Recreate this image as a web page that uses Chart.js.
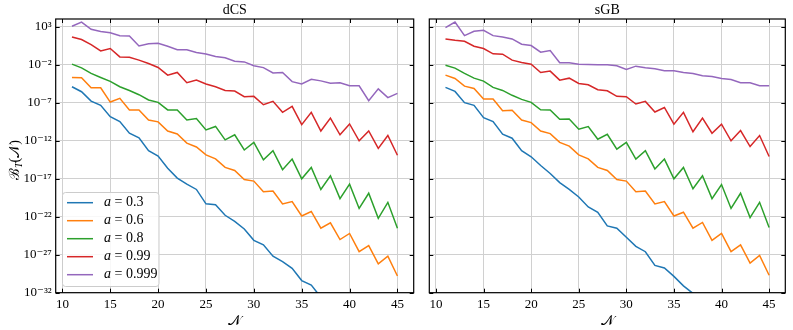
<!DOCTYPE html>
<html>
<head>
<meta charset="utf-8">
<script src="https://cdn.jsdelivr.net/npm/chart.js@4.4.0/dist/chart.umd.min.js"></script>
<style>
  body { margin: 0; background: #fff; width: 793px; height: 330px; overflow: hidden; position: relative; }
  canvas { position: absolute; top: 0; }
</style>
</head>
<body>
<canvas id="left" width="420" height="330" style="left:0"></canvas>
<canvas id="right" width="373" height="330" style="left:420px"></canvas>
<script>
// mode number N
const N = [11,12,13,14,15,16,17,18,19,20,21,22,23,24,25,26,27,28,29,30,31,32,33,34,35,36,37,38,39,40,41,42,43,44,45];

// log10 of B_T(N)
const dcs_03 = [-4.87,-5.53,-6.76,-7.32,-8.81,-9.47,-11.0,-11.6,-13.3,-14.0,-15.6,-16.9,-17.7,-18.4,-20.3,-20.4,-21.8,-22.6,-23.6,-25.1,-25.7,-27.2,-27.9,-28.8,-30.4,-31.0,-32.6];
const dcs_06 = [-3.65,-3.69,-5.0,-5.0,-6.89,-6.4,-7.93,-7.93,-9.25,-9.5,-10.7,-11.1,-12.3,-12.8,-13.85,-14.37,-15.5,-15.9,-17.1,-17.3,-18.7,-18.6,-20.3,-20.0,-21.9,-21.3,-23.5,-22.8,-25.0,-24.2,-26.6,-25.8,-28.2,-27.2,-29.8];
const dcs_08 = [-1.9,-2.38,-3.12,-3.65,-4.17,-4.87,-5.36,-5.92,-6.62,-6.93,-7.93,-7.93,-9.25,-9.07,-10.56,-10.1,-11.87,-11.2,-13.2,-12.2,-14.5,-13.3,-15.8,-14.4,-17.0,-15.5,-18.4,-16.6,-19.6,-17.7,-20.9,-18.9,-22.2,-20.1,-23.5];
const dcs_099 = [1.69,1.34,0.68,-0.15,0.16,-0.94,-0.98,-1.37,-1.81,-2.34,-3.34,-2.99,-4.35,-4.0,-4.52,-4.87,-5.36,-5.44,-6.19,-6.14,-7.24,-6.8,-8.24,-7.45,-9.86,-8.24,-10.7,-9.0,-11.2,-9.77,-12.0,-10.7,-13.0,-11.3,-13.9];
const dcs_0999 = [3.1,3.65,2.7,2.4,2.25,1.85,1.8,0.5,0.8,0.85,0.45,0.0,0.0,-0.35,-0.55,-0.9,-1.05,-1.5,-1.6,-2.1,-2.35,-3.05,-3.0,-4.2,-4.5,-3.9,-4.1,-4.4,-4.35,-4.75,-4.75,-6.7,-5.15,-6.3,-5.75];

const sgb_03 = [-4.96,-5.49,-6.97,-7.32,-8.94,-9.47,-11.13,-11.65,-13.3,-14.1,-15.25,-16.3,-17.5,-18.4,-19.4,-20.7,-21.4,-23.2,-23.5,-24.7,-25.9,-26.6,-28.4,-28.75,-29.85,-31.1,-32.1];
const sgb_06 = [-3.34,-3.78,-4.79,-5.1,-6.5,-6.5,-8.03,-7.98,-9.25,-9.6,-10.7,-11.05,-12.2,-12.7,-13.85,-14.37,-15.5,-15.9,-17.1,-17.3,-18.7,-18.6,-20.3,-20.0,-21.9,-21.4,-23.5,-22.75,-25.1,-24.2,-26.6,-25.7,-28.1,-27.1,-29.7];
const sgb_08 = [-2.03,-2.42,-3.12,-3.74,-4.13,-4.96,-5.36,-6.0,-6.54,-6.93,-7.9,-7.94,-9.16,-9.12,-10.47,-10.12,-11.78,-11.13,-13.1,-12.2,-14.4,-13.3,-15.7,-14.4,-17.0,-15.5,-18.3,-16.6,-19.6,-17.75,-20.9,-18.9,-22.1,-20.1,-23.4];
const sgb_099 = [1.43,1.25,1.12,0.46,0.16,-0.54,-0.59,-1.37,-1.68,-1.9,-2.99,-2.81,-4.0,-3.74,-4.44,-4.61,-5.27,-5.4,-6.14,-6.19,-7.15,-6.8,-8.2,-7.6,-9.8,-8.25,-10.8,-9.0,-11.0,-9.8,-12.0,-10.65,-12.75,-11.3,-14.06];
const sgb_0999 = [2.9,3.65,1.86,2.43,2.56,1.86,1.69,1.43,0.73,0.55,-0.32,-0.1,-1.72,-1.72,-1.9,-1.94,-1.99,-1.99,-2.12,-2.6,-2.16,-2.38,-2.51,-2.77,-2.77,-3.0,-3.12,-3.43,-3.52,-3.78,-3.91,-4.35,-4.35,-4.74,-4.74];

const spins = ['0.3', '0.6', '0.8', '0.99', '0.999'];
const colors = ['#1f77b4', '#ff7f0e', '#2ca02c', '#d62728', '#9467bd'];
const xTicks = [10, 15, 20, 25, 30, 35, 40, 45];
const yTicks = [3, -2, -7, -12, -17, -22, -27, -32];

const SERIF = '"Liberation Serif", "DejaVu Serif", serif';
const SUP = {'0':'⁰','1':'¹','2':'²','3':'³','4':'⁴','5':'⁵','6':'⁶','7':'⁷','8':'⁸','9':'⁹','-':'⁻'};
const sup = s => String(s).split('').map(c => SUP[c]).join('');

function makeDatasets(series) {
  return series.map((vals, i) => ({
    label: 'a = ' + spins[i],
    data: vals.map((v, j) => ({ x: N[j], y: Math.pow(10, v) })),
    borderColor: colors[i],
    backgroundColor: colors[i],
    borderWidth: 1.5,
    pointRadius: 0,
    tension: 0,
    fill: false
  }));
}

// frame, inward ticks, panel title, y label and legend
const decor = {
  id: 'decor',
  afterDraw(chart, args, opts) {
    const { ctx, chartArea: a, scales } = chart;
    ctx.save();
    ctx.strokeStyle = '#000';
    ctx.lineWidth = 1;
    ctx.beginPath();
    scales.x.ticks.forEach(t => {
      const px = Math.round(scales.x.getPixelForValue(t.value)) + 0.5;
      ctx.moveTo(px, a.bottom); ctx.lineTo(px, a.bottom - 4);
      ctx.moveTo(px, a.top); ctx.lineTo(px, a.top + 4);
    });
    scales.y.ticks.forEach(t => {
      const py = Math.round(scales.y.getPixelForValue(t.value)) + 0.5;
      ctx.moveTo(a.left, py); ctx.lineTo(a.left + 4, py);
      ctx.moveTo(a.right, py); ctx.lineTo(a.right - 4, py);
    });
    ctx.stroke();
    ctx.lineWidth = 1.2;
    ctx.strokeRect(a.left, a.top, a.right - a.left, a.bottom - a.top);

    ctx.fillStyle = '#000';
    ctx.font = '14px ' + SERIF;
    ctx.textAlign = 'center';
    ctx.textBaseline = 'middle';
    ctx.fillText(opts.title, (a.left + a.right) / 2, 10);

    if (opts.ylabel) {
      ctx.save();
      ctx.translate(15, 160);
      ctx.rotate(-Math.PI / 2);
      const big = '14px ' + SERIF, small = 'italic 10px ' + SERIF;
      ctx.font = big; const w1 = ctx.measureText('ℬ').width;
      ctx.font = small; const w2 = ctx.measureText('T').width;
      ctx.font = big; const w3 = ctx.measureText('(𝒩)').width;
      let x0 = -(w1 + w2 + w3) / 2;
      ctx.textAlign = 'left';
      ctx.font = big; ctx.fillText('ℬ', x0, 0);
      ctx.font = small; ctx.fillText('T', x0 + w1, 4);
      ctx.font = big; ctx.fillText('(𝒩)', x0 + w1 + w2, 0);
      ctx.restore();
    }

    if (opts.legend) {
      const bx = 62.5, by = 192.5, bw = 96.5, bh = 94;
      ctx.fillStyle = 'rgba(255,255,255,0.85)';
      ctx.strokeStyle = '#cccccc';
      ctx.lineWidth = 1;
      ctx.beginPath();
      ctx.roundRect(bx, by, bw, bh, 3);
      ctx.fill(); ctx.stroke();
      chart.data.datasets.forEach((ds, i) => {
        const y = 202.7 + 18 * i;
        ctx.strokeStyle = ds.borderColor;
        ctx.lineWidth = 1.5;
        ctx.beginPath(); ctx.moveTo(67, y); ctx.lineTo(93, y); ctx.stroke();
        ctx.fillStyle = '#000';
        ctx.textAlign = 'left';
        ctx.textBaseline = 'middle';
        ctx.font = 'italic 14px ' + SERIF;
        ctx.fillText('a', 104, y);
        const wa = ctx.measureText('a').width;
        ctx.font = '14px ' + SERIF;
        ctx.fillText(' = ' + spins[i], 104 + wa, y);
      });
    }
    ctx.restore();
  }
};

function makeChart(id, series, title, isLeft) {
  return new Chart(document.getElementById(id), {
    type: 'line',
    data: { datasets: makeDatasets(series) },
    plugins: [decor],
    options: {
      responsive: false,
      animation: false,
      layout: { padding: { top: 19, right: isLeft ? 6.3 : 7.7, left: 0, bottom: 0 } },
      plugins: {
        legend: { display: false },
        tooltip: { enabled: false },
        decor: { title: title, ylabel: isLeft, legend: isLeft }
      },
      scales: {
        x: {
          type: 'linear',
          min: 9.3,
          max: 46.7,
          afterBuildTicks: s => { s.ticks = xTicks.map(v => ({ value: v })); },
          afterFit: s => { s.height = 37.3; },
          grid: { color: '#d0d0d0', lineWidth: 1, drawTicks: false },
          border: { display: false },
          ticks: { color: '#000', font: { family: SERIF, size: 13 }, padding: 4, maxRotation: 0 },
          title: { display: true, text: '𝒩', color: '#000', font: { family: SERIF, size: 14 }, padding: 0 }
        },
        y: {
          type: 'logarithmic',
          min: 1e-32,
          max: Math.pow(10, 4.05),
          afterBuildTicks: s => { s.ticks = yTicks.map(e => ({ value: Math.pow(10, e) })); },
          afterFit: s => { s.width = isLeft ? 55.7 : 9.3; },
          grid: { color: '#d0d0d0', lineWidth: 1, drawTicks: false },
          border: { display: false },
          ticks: {
            display: isLeft,
            color: '#000',
            font: { family: SERIF, size: 13 },
            padding: 4,
            callback: v => '10' + sup(Math.round(Math.log10(v)))
          }
        }
      }
    }
  });
}

makeChart('left', [dcs_03, dcs_06, dcs_08, dcs_099, dcs_0999], 'dCS', true);
makeChart('right', [sgb_03, sgb_06, sgb_08, sgb_099, sgb_0999], 'sGB', false);
</script>
</body>
</html>
